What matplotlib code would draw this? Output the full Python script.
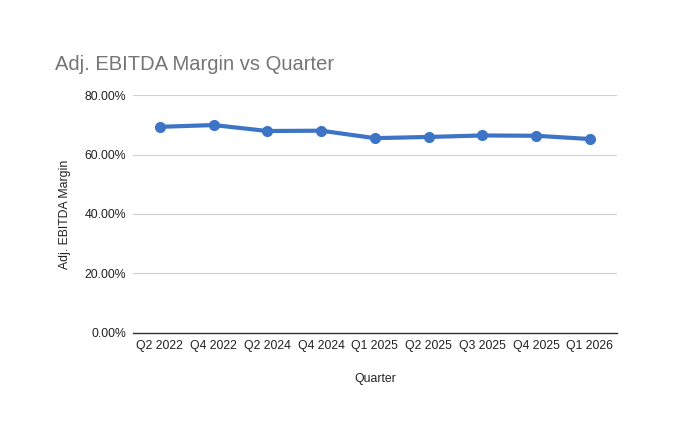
import matplotlib.pyplot as plt
from matplotlib.ticker import FuncFormatter

plt.rcParams['font.family'] = ['Liberation Sans', 'DejaVu Sans']

quarters = ["Q2 2022", "Q4 2022", "Q2 2024", "Q4 2024", "Q1 2025",
            "Q2 2025", "Q3 2025", "Q4 2025", "Q1 2026"]
margin = [69.3, 69.9, 67.9, 68.0, 65.5, 65.9, 66.4, 66.3, 65.2]

fig = plt.figure(figsize=(7, 4.23), dpi=100)
ax = fig.add_axes([0.19, 0.2128, 0.691, 0.5626])

x = range(len(quarters))
ax.plot(x, margin, color="#3d74c6", linewidth=3, marker="o", markersize=7)

ax.set_xlim(-0.5, len(quarters) - 0.5)
ax.set_ylim(0, 80)
ax.set_yticks([0, 20, 40, 60, 80])
ax.yaxis.set_major_formatter(FuncFormatter(lambda v, p: f"{v:.2f}%"))
ax.set_xticks(list(x))
ax.set_xticklabels(quarters)

ax.grid(axis='y', color="#d0d0d0", linewidth=0.8)
ax.set_axisbelow(True)
for s in ["top", "right", "left"]:
    ax.spines[s].set_visible(False)
ax.spines["bottom"].set_color("#333333")
ax.spines["bottom"].set_linewidth(1)
ax.tick_params(length=0, labelsize=8.8, colors="#222222", pad=5)

ax.set_xlabel("Quarter", fontsize=8.8, color="#222222", labelpad=15)
ax.set_ylabel("Adj. EBITDA Margin", fontsize=8.8, color="#222222", labelpad=10)
fig.text(0.079, 0.847, "Adj. EBITDA Margin vs Quarter", fontsize=14.5,
         color="#757575", va="center")

fig.savefig("out.png", dpi=100)
